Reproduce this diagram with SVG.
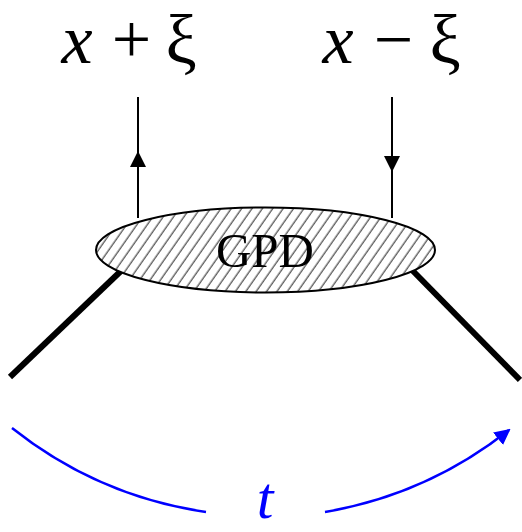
<svg xmlns="http://www.w3.org/2000/svg" width="522" height="532" viewBox="0 0 522 532">
<style>
.lbl{font-family:"Liberation Serif","Times New Roman",serif;font-size:70px;fill:#000;text-anchor:middle}
.it{font-style:italic}
.thin{stroke:#000;stroke-width:2;fill:none}
.thick{stroke:#000;stroke-width:6;fill:none}
.blue{stroke:#0000ff;stroke-width:2.5;fill:none}
</style>
<defs>
<pattern id="hatch" patternUnits="userSpaceOnUse" width="8.5" height="20" patternTransform="rotate(35)">
<line x1="3" y1="-2" x2="3" y2="22" stroke="#000" stroke-width="0.9"/>
</pattern>
<marker id="arrB" markerWidth="16" markerHeight="16" refX="14" refY="8" orient="auto" markerUnits="userSpaceOnUse">
<path d="M0,0 L16,8 L0,16 Z" fill="#0000ff"/>
</marker>
</defs>
<g id="connectors">
<line class="thin" x1="138" y1="97" x2="138" y2="218"/>
<path d="M138,151 L130,167 L146,167 Z" fill="#000"/>
<line class="thin" x1="392" y1="97" x2="392" y2="218"/>
<path d="M392,172 L384,156 L400,156 Z" fill="#000"/>
<line class="thick" x1="10" y1="377" x2="122" y2="270"/>
<line class="thick" x1="412" y1="270" x2="520" y2="380"/>
<path class="blue" d="M12,428 A406.6,406.6 0 0 0 206,512"/>
<path class="blue" d="M325,512 A406.6,406.6 0 0 0 509,430" marker-end="url(#arrB)"/>
</g>
<g id="gpd">
<ellipse cx="265.5" cy="250" rx="169.5" ry="42.5" fill="#fff" stroke="none"/>
<ellipse cx="265.5" cy="250" rx="169.5" ry="42.5" fill="url(#hatch)" stroke="#000" stroke-width="2"/>
<text x="265" y="267" style="font-family:'Liberation Serif','Times New Roman',serif;font-size:49px;text-anchor:middle">GPD</text>
</g>
<g id="label-in">
<text class="lbl it" x="77" y="63">x</text>
<text class="lbl" x="131.5" y="63">+</text>
<text class="lbl" x="181" y="63">ξ</text>
</g>
<g id="label-out">
<text class="lbl it" x="338" y="63">x</text>
<text class="lbl" x="393.5" y="63">−</text>
<text class="lbl" x="445" y="63">ξ</text>
</g>
<g id="label-t">
<text class="lbl it" x="265" y="518" style="fill:#0000ff;font-size:60px">t</text>
</g>
</svg>
